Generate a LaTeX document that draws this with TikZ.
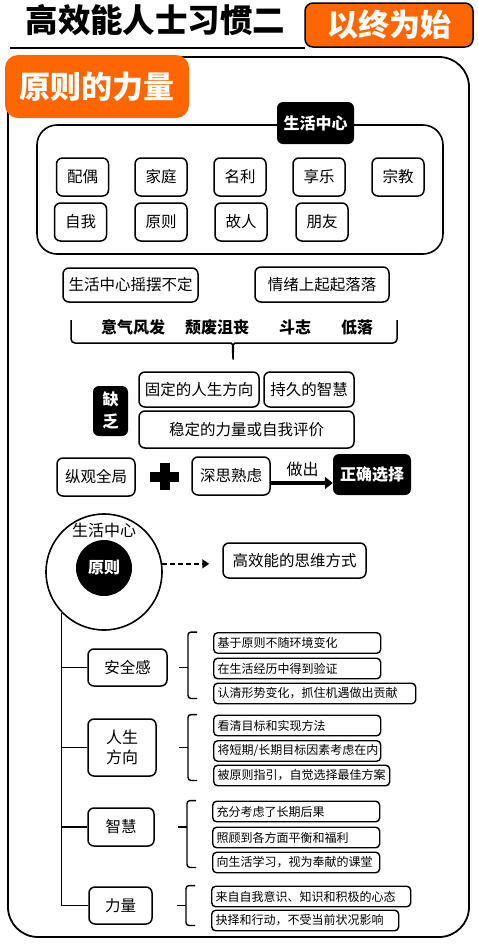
\documentclass[tikz,border=0pt]{standalone}
\usepackage{fontspec}
\setmainfont{Noto Sans CJK SC}
\usetikzlibrary{calc,positioning,arrows.meta}
\definecolor{tagorange}{HTML}{FF6600}
\tikzset{
  box/.style={
    draw,
    shape = rectangle,
    line width = 1.5pt,
    rounded corners = 6pt,
    inner sep = 1pt,
    font = \fontsize{15.5}{18}\selectfont
  },
  blackbox/.style={
    fill = black,
    text = white,
    rounded corners = 6pt,
    inner sep = 1pt,
    font = \fontsize{16}{20}\selectfont\bfseries
  },
  tag/.style={
    fill = tagorange,
    text = white,
    inner sep = 0pt,
    font = \fontsize{31}{31}\selectfont\bfseries
  },
  subnote/.style={
    draw,
    line width = 1.4pt,
    rounded corners = 4pt,
    text width = #1,
    align = left,
    inner xsep = 4pt,
    inner ysep = 0pt,
    minimum height = 20.5pt,
    anchor = west,
    font = \fontsize{12}{14}\selectfont
  },
  subnote/.default = 159pt,
}
% brace in front of the notes of one branch
\newcommand{\sidebrace}[3]{%
  \draw[line width=1.4pt, rounded corners=3pt] ($(#2.north west)+(-16,0)$) -| ($(#2.west |- #1.east)+(-25,0)$) |- ($(#3.south west)+(-16,-6)$);
  \draw[line width=1.4pt] ($(#2.west |- #1.east)+(-25,0)$) -- ++(-9,0);
}

\begin{document}
\begin{tikzpicture}[x=1pt, y=-1pt, font=\fontsize{16}{19}\selectfont]
    \useasboundingbox (0,0) rectangle (478,946);
    % heading
    \node[font=\fontsize{32.5}{32}\selectfont\bfseries] (title) at (155.5,20) {高效能人士习惯二};
    \draw[line width=1.8pt] (10,48) -- (305,48);
    \node[tag, draw, line width=1.5pt, rounded corners=8pt, minimum width=168pt, minimum height=44pt] (goal) at (389,25) {以终为始};
    \draw[line width=1.8pt, rounded corners=30pt] (8,57) rectangle (469,937);
    \node[tag, rounded corners=13pt, minimum width=184pt, minimum height=63pt, font=\fontsize{31}{30}\selectfont\bfseries] (power) at (97,86.5) {原则的力量};
    % life centres
    \node[draw, line width=1.6pt, rounded corners=20pt, minimum width=406pt, minimum height=129pt] (centres) at (240,189.5) {};
    \node[blackbox, minimum width=77pt, minimum height=42pt] (centrelabel) at (315.5,123) {生活中心};
    \foreach \name/\txt/\x/\y in {spouse/配偶/82.5/177, family/家庭/161/177, fame/名利/240/177, fun/享乐/319/177, faith/宗教/398/177,
                                  self/自我/80.5/222, principle/原则/161/222, enemy/故人/241/222, friend/朋友/322/222}
      \node[box, minimum width=52pt, minimum height=38pt] (\name) at (\x,\y) {\txt};
    % unstable centre
    \node[box, minimum width=135pt, minimum height=34pt] (swing) at (130.5,285) {生活中心摇摆不定};
    \node[box, minimum width=134pt, minimum height=35pt] (mood) at (322,284.5) {情绪上起起落落};
    \foreach \name/\txt/\x in {high/意气风发/133, low/颓废沮丧/217, drive/斗志/295, down/低落/357}
      \node[font=\fontsize{16}{16}\selectfont\bfseries] (\name) at (\x,327) {\txt};
    \draw[line width=1.5pt, rounded corners=4pt] (71,320) |- (227,343) to[out=0,in=90] (233,362) to[out=90,in=180] (239,343) -| (397,320);
    % lacking
    \node[blackbox, minimum width=35pt, minimum height=50pt, align=center, font=\fontsize{16}{22}\selectfont\bfseries] (lack) at (110.5,411) {缺\\乏};
    \node[box, minimum width=120pt, minimum height=35pt] (direction) at (199,389.5) {固定的人生方向};
    \node[box, minimum width=90pt, minimum height=35pt] (wisdom) at (309,389.5) {持久的智慧};
    \node[box, minimum width=215pt, minimum height=37pt] (stable) at (246.5,429.5) {稳定的力量或自我评价};
    % right choice
    \node[box, minimum width=78pt, minimum height=38pt] (overview) at (96,477) {纵观全局};
    \coordinate (plus) at (164.5,476.5);
    \draw[line width=10pt] ($(plus)+(-14.5,0)$) -- ($(plus)+(14.5,0)$) ($(plus)+(0,-13.5)$) -- ($(plus)+(0,13.5)$);
    \node[box, minimum width=78pt, minimum height=38pt] (think) at (231,476) {深思熟虑};
    \node[blackbox, minimum width=78pt, minimum height=41pt] (choice) at (372,474.5) {正确选择};
    \draw[line width=4.5pt, -{Triangle[length=8pt, width=12pt]}] ($(think.east)+(0,7)$) -- ($(think.east -| choice.west)+(0,7)$);
    \node (make) at (302.5,469) {做出};
    % principle centre
    \node[circle, draw, line width=1.6pt, minimum size=116pt, inner sep=0pt] (ring) at (104,572) {};
    \node (ringlabel) at (104,530) {生活中心};
    \node[circle, fill=black, text=white, minimum size=56pt, inner sep=0pt, font=\fontsize{16}{16}\selectfont\bfseries] (core) at (104,568) {原则};
    \node[box, minimum width=143pt, minimum height=35pt] (mindset) at (294.5,560.5) {高效能的思维方式};
    \draw[line width=1.5pt, dash pattern=on 5pt off 3pt, -{Triangle[length=7pt, width=9pt]}, shorten >=13pt] (ring.8) -- (ring.8 -| mindset.west);
    % branches
    \node[box, minimum width=79pt, minimum height=37pt] (safety) at (127.5,667.5) {安全感};
    \node[box, minimum width=68pt, minimum height=57pt, align=center, font=\fontsize{16}{20}\selectfont] (course) at (122,747.5) {人生\\方向};
    \node[box, minimum width=66pt, minimum height=38pt] (insight) at (121,827) {智慧};
    \node[box, minimum width=63pt, minimum height=37pt] (strength) at (120.5,905.5) {力量};
    \draw[line width=1.5pt] (ring.224) |- (strength.west);
    \foreach \c in {safety, course, insight}
      \draw[line width=1.5pt] (ring.224 |- \c.west) -- (\c.west);
    % notes
    \node[subnote] (safetyA) at (213,643) {基于原则不随环境变化};
    \node[subnote] (safetyB) at (213,668.5) {在生活经历中得到验证};
    \node[subnote=194pt] (safetyC) at (213,693.5) {认清形势变化，抓住机遇做出贡献};
    \node[subnote] (courseA) at (213,725.5) {看清目标和实现方法};
    \node[subnote] (courseB) at (213,751) {将短期/长期目标因素考虑在内};
    \node[subnote=168pt] (courseC) at (213,775.5) {被原则指引，自觉选择最佳方案};
    \node[subnote] (insightA) at (212,811.5) {充分考虑了长期后果};
    \node[subnote] (insightB) at (212,837.5) {照顾到各方面平衡和福利};
    \node[subnote] (insightC) at (212,862.5) {向生活学习，视为奉献的课堂};
    \node[subnote=191pt] (strengthA) at (211,896.5) {来自自我意识、知识和积极的心态};
    \node[subnote=179pt] (strengthB) at (211,920.5) {抉择和行动，不受当前状况影响};
    \sidebrace{safety}{safetyA}{safetyC}
    \sidebrace{course}{courseA}{courseC}
    \sidebrace{insight}{insightA}{insightC}
    \sidebrace{strength}{strengthA}{strengthB}
\end{tikzpicture}
\end{document}
